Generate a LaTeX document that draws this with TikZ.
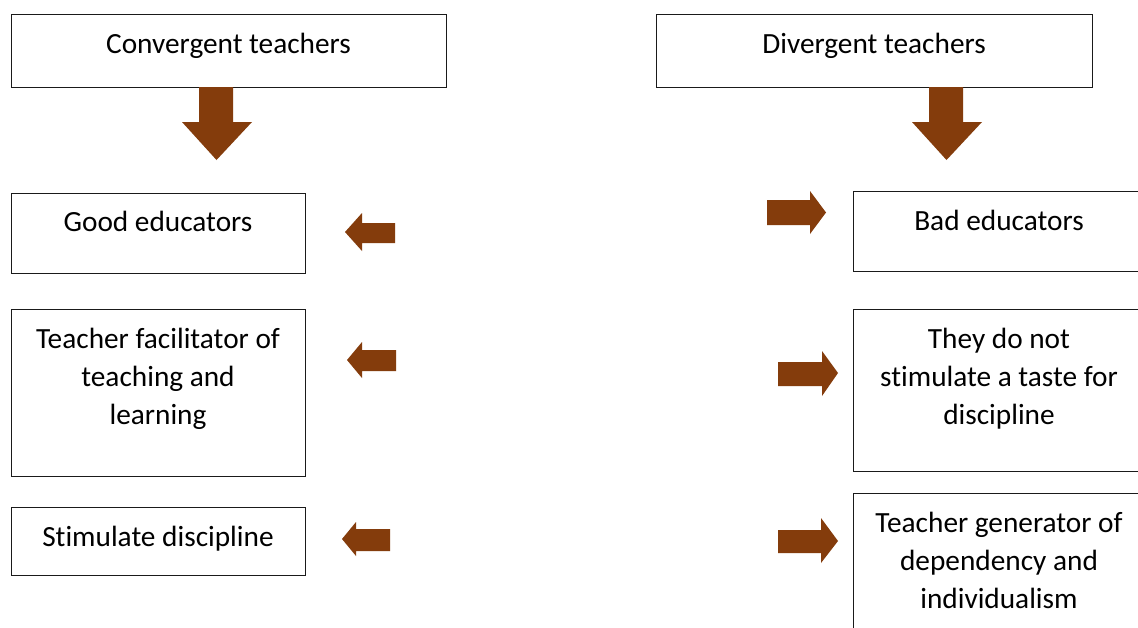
\documentclass[tikz,border=0pt]{standalone}
\usepackage{fontspec}
\setmainfont{Carlito}[Ligatures=NoCommon]
\definecolor{arrbrown}{HTML}{843C0C}
\definecolor{boxline}{HTML}{1A1A1A}
\tikzset{
  box/.style={draw=boxline, line width=1.1pt, fill=white, inner sep=0pt, anchor=north west},
  txt/.style={anchor=north, inner sep=0pt, align=center, font=\fontsize{29.3}{38}\selectfont},
  blk/.style={fill=arrbrown, draw=none}
}
\begin{document}
\begin{tikzpicture}[x=1pt,y=-1pt]
\useasboundingbox (0,0) rectangle (1138,627);
\fill[white] (0,0) rectangle (1138,627);
\clip (0,0) rectangle (1138,627);
% boxes
\node[box, minimum width=435pt, minimum height=73pt] (conv) at (11,14) {};
\node[box, minimum width=436pt, minimum height=73pt] (div) at (656,14) {};
\node[box, minimum width=294pt, minimum height=80pt] (good) at (11,193) {};
\node[box, minimum width=294pt, minimum height=167pt] (fac) at (11,309) {};
\node[box, minimum width=294pt, minimum height=68pt] (stim) at (11,507) {};
\node[box, minimum width=292pt, minimum height=80pt] (bad) at (853,191) {};
\node[box, minimum width=292pt, minimum height=162pt] (they) at (853,309) {};
\node[box, minimum width=292pt, minimum height=150pt] (gen) at (853,493) {};
% texts
\node[txt] (convT) at (228.5,32.5) {Convergent teachers};
\node[txt] (divT) at (874,32.5) {Divergent teachers};
\node[txt] (goodT) at (158,211) {Good educators};
\node[txt] (facT) at (158,327.5) {Teacher facilitator of\\teaching and\\learning};
\node[txt] (stimT) at (158,525.5) {Stimulate discipline};
\node[txt] (badT) at (999,210) {Bad educators};
\node[txt] (theyT) at (999,327.5) {They do not\\stimulate a taste for\\discipline};
\node[txt] (genT) at (999,511.5) {Teacher generator of\\dependency and\\individualism};
% down arrows
\fill[blk] (199,87) -- (233,87) -- (233,122) -- (252,122) -- (216.5,160) -- (182,122) -- (199,122) -- cycle;
\fill[blk] (929,87) -- (963,87) -- (963,122) -- (982,122) -- (946.5,160) -- (912,122) -- (929,122) -- cycle;
% left arrows
\fill[blk] (345,232) -- (362,213) -- (362,223) -- (395,223) -- (395,243) -- (362,243) -- (362,251) -- cycle;
\fill[blk] (347,360) -- (362,342) -- (362,350) -- (396,350) -- (396,371) -- (362,371) -- (362,378) -- cycle;
\fill[blk] (342,539) -- (356,522) -- (356,529) -- (390,529) -- (390,551) -- (356,551) -- (356,556) -- cycle;
% right arrows
\fill[blk] (767,200) -- (810,200) -- (810,191) -- (826,212.5) -- (810,234) -- (810,225) -- (767,225) -- cycle;
\fill[blk] (778,362) -- (822,362) -- (822,351) -- (838,373) -- (822,396) -- (822,386) -- (778,386) -- cycle;
\fill[blk] (778,530) -- (821,530) -- (821,518) -- (838,541) -- (821,563) -- (821,553) -- (778,553) -- cycle;
\end{tikzpicture}
\end{document}
